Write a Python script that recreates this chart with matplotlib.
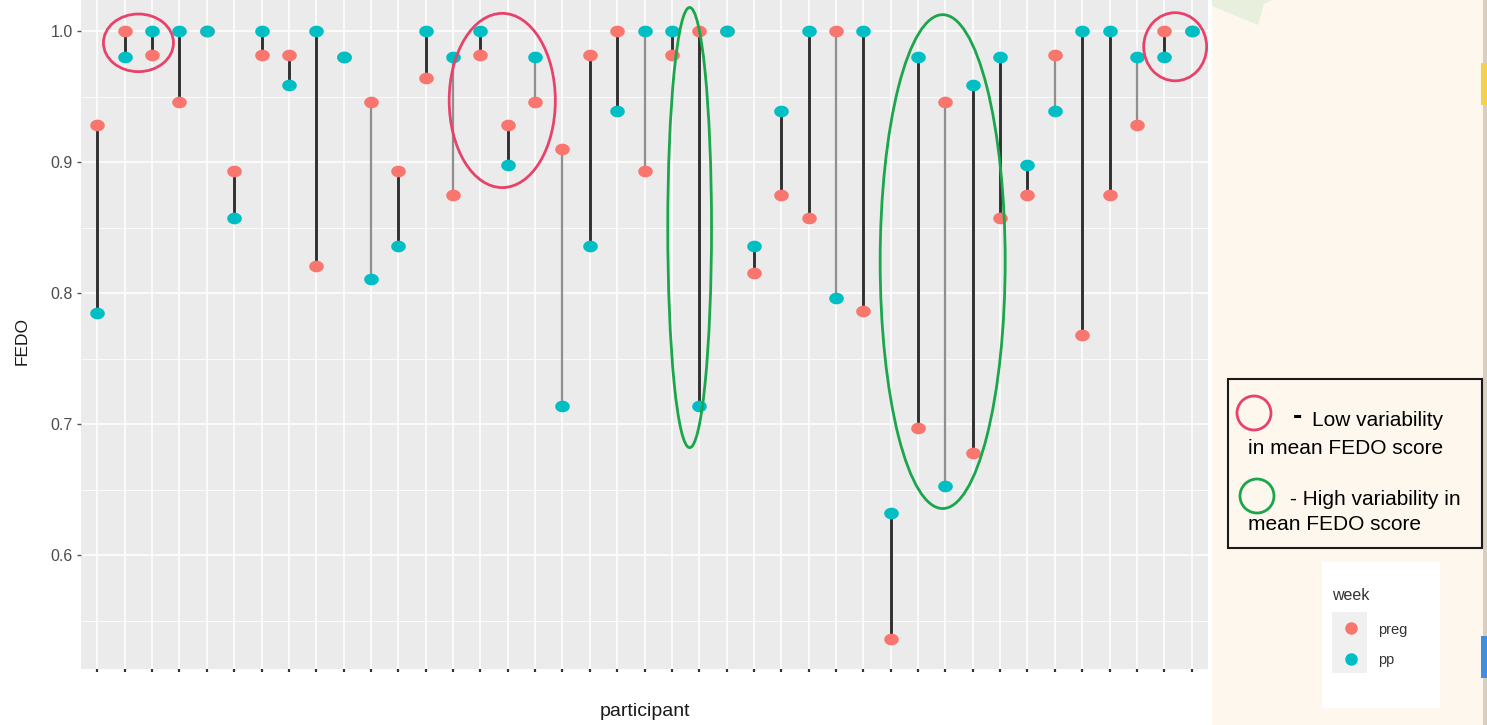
import numpy as np
import matplotlib
matplotlib.use('Agg')
import matplotlib.pyplot as plt
from matplotlib.patches import Ellipse, Rectangle, Polygon
from matplotlib.path import Path

plt.rcParams['font.family'] = ['Liberation Sans', 'DejaVu Sans']

# FEDO score per participant, pregnancy vs postpartum
participants = list(range(1, 42))
preg = [0.928, 1.000, 0.982, 0.946, 1.000, 0.893, 0.982, 0.982, 0.821, 0.980,
        0.946, 0.893, 0.964, 0.875, 0.982, 0.928, 0.946, 0.910, 0.982, 1.000,
        0.893, 0.982, 1.000, 1.000, 0.815, 0.875, 0.857, 1.000, 0.786, 0.536,
        0.697, 0.946, 0.678, 0.857, 0.875, 0.982, 0.768, 0.875, 0.928, 1.000,
        1.000]
pp = [0.785, 0.980, 1.000, 1.000, 1.000, 0.857, 1.000, 0.959, 1.000, 0.980,
      0.811, 0.836, 1.000, 0.980, 1.000, 0.898, 0.980, 0.714, 0.836, 0.939,
      1.000, 1.000, 0.714, 1.000, 0.836, 0.939, 1.000, 0.796, 1.000, 0.632,
      0.980, 0.653, 0.959, 0.980, 0.898, 0.939, 1.000, 1.000, 0.980, 0.980,
      1.000]
# segments that render lighter in the screenshot
light_segments = [11, 14, 17, 18, 21, 28, 32, 36, 39]

W, H = 1487, 725
RED, CYAN = '#F8766D', '#00BFC4'
PINK, GREEN = '#E8426A', '#1AA64B'
BEIGE = '#FDF7EE'

fig = plt.figure(figsize=(W / 100, H / 100), dpi=100)
fig.patch.set_facecolor('white')

# decoration layer in pixel coordinates
deco = fig.add_axes([0, 0, 1, 1], zorder=0)
deco.set_xlim(0, W)
deco.set_ylim(H, 0)
deco.axis('off')
deco.add_patch(Rectangle((1212, 0), 271, H, color=BEIGE, lw=0))
deco.add_patch(Rectangle((1483, 0), 4, H, color='#D8CFC0', lw=0))
deco.add_patch(Rectangle((1481, 63), 6, 42, color='#F4D34A', lw=0))
deco.add_patch(Rectangle((1481, 636), 6, 42, color='#3F8FE0', lw=0))
deco.add_patch(Polygon([(1212, 0), (1272, 0), (1264, 4), (1258, 25), (1212, 6)],
                       closed=True, color='#E9EFDD', lw=0))

# annotation box
deco.add_patch(Rectangle((1228, 379), 254, 169, facecolor=BEIGE,
                         edgecolor='#1a1a1a', lw=1.5))
deco.add_patch(Ellipse((1254, 413), 34, 34, fill=False, edgecolor=PINK, lw=2.0))
deco.add_patch(Ellipse((1257, 496), 34, 34, fill=False, edgecolor=GREEN, lw=2.0))
deco.text(1297, 417, '-', fontsize=20, fontweight='bold', ha='center', va='center')
deco.text(1312, 420, 'Low variability', fontsize=15, ha='left', va='center')
deco.text(1248, 448, 'in mean FEDO score', fontsize=15, ha='left', va='center')
deco.text(1290, 499, '- High variability in', fontsize=15, ha='left', va='center')
deco.text(1248, 524, 'mean FEDO score', fontsize=15, ha='left', va='center')

# ggplot legend pasted as a white box
deco.add_patch(Rectangle((1322, 562), 118, 146, color='white', lw=0))
deco.text(1332, 595, 'week', fontsize=11.5, color='#333333', ha='left', va='center')
deco.add_patch(Rectangle((1332, 612), 35, 61, color='#F0F0F0', lw=0))
deco.plot([1351], [628], 'o', color=RED, markersize=8)
deco.plot([1351], [659], 'o', color=CYAN, markersize=8)
deco.text(1378, 630, 'preg', fontsize=10.5, color='#333333', ha='left', va='center')
deco.text(1378, 660, 'pp', fontsize=10.5, color='#333333', ha='left', va='center')

# main panel
ax = fig.add_axes([81 / W, 1 - 669 / H, (1208 - 81) / W, 669 / H], zorder=1)
ax.set_facecolor('#EBEBEB')
for s in ax.spines.values():
    s.set_visible(False)

x = np.arange(len(participants))
ax.set_xlim(-0.6, len(participants) - 0.4)
ax.set_ylim(0.513, 1.0237)

ax.set_yticks([0.6, 0.7, 0.8, 0.9, 1.0])
ax.set_yticks([0.55, 0.65, 0.75, 0.85, 0.95], minor=True)
ax.set_yticklabels(['0.6', '0.7', '0.8', '0.9', '1.0'])
ax.set_xticks(x)
ax.set_xticklabels([''] * len(x))
ax.grid(True, which='major', color='white', lw=1.1)
ax.grid(True, which='minor', axis='y', color='white', lw=0.55)
ax.set_axisbelow(True)
ax.tick_params(axis='y', which='major', length=3, width=1, color='#555555',
               labelsize=11.5, labelcolor='#4D4D4D', pad=3)
ax.tick_params(axis='y', which='minor', length=0)
ax.tick_params(axis='x', length=2.5, width=1.6, color='#333333')

# stretched dot marker (screenshot is wider than tall)
t = np.linspace(0, 2 * np.pi, 60)
dot = Path(np.column_stack([1.25 * np.cos(t), np.sin(t)]))

for i, p in enumerate(participants):
    light = p in light_segments
    ax.plot([x[i], x[i]], [preg[i], pp[i]],
            color='#8F8F8F' if light else '#303030',
            lw=1.6 if light else 2.1, zorder=2, solid_capstyle='butt')
ax.plot(x, preg, linestyle='none', marker=dot, markersize=10.5, color=RED,
        markeredgewidth=0, zorder=3)
ax.plot(x, pp, linestyle='none', marker=dot, markersize=10.5, color=CYAN,
        markeredgewidth=0, zorder=4)

# highlight ellipses (participant index, FEDO)
for cx, cy, w, h, c in [(1.5, 0.991, 2.56, 0.044, PINK),
                        (14.8, 0.947, 3.88, 0.133, PINK),
                        (39.4, 0.988, 2.3, 0.052, PINK),
                        (21.65, 0.850, 1.6, 0.336, GREEN),
                        (30.9, 0.824, 4.57, 0.377, GREEN)]:
    ax.add_patch(Ellipse((cx, cy), w, h, fill=False, edgecolor=c, lw=2.0,
                         zorder=5, clip_on=False))

fig.text(22 / W, 1 - 341 / H, 'FEDO', rotation=90, fontsize=12.5,
         color='#1a1a1a', ha='center', va='center')
fig.text(645 / W, 1 - 712 / H, 'participant', fontsize=14,
         color='#1a1a1a', ha='center', va='center')

fig.savefig('out.png', dpi=100)
